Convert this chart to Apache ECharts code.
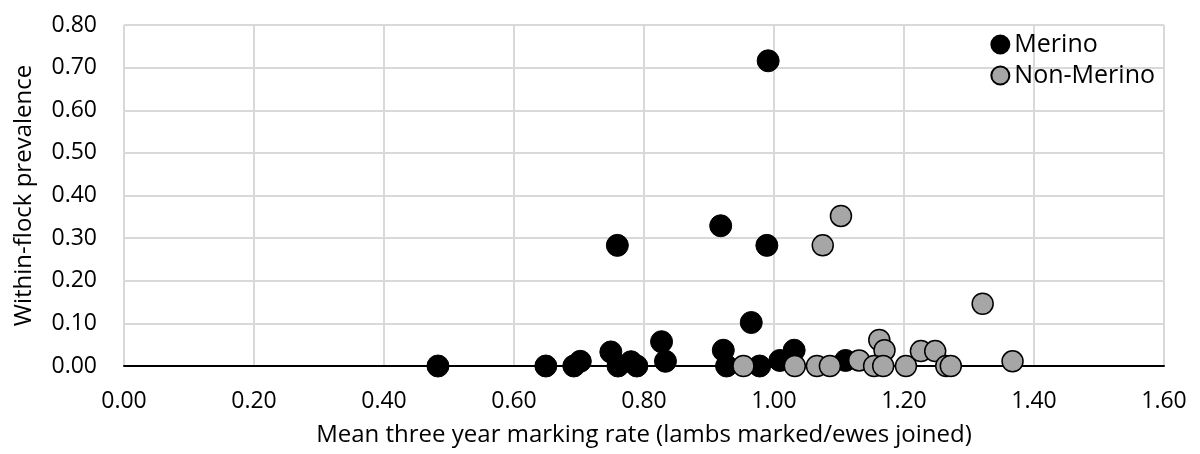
<!DOCTYPE html>
<html><head><meta charset="utf-8">
<script src="https://cdn.jsdelivr.net/npm/echarts@6/dist/echarts.min.js"></script>
<style>html,body{margin:0;padding:0;background:#fff}#c{width:1200px;height:454px}</style>
</head><body><div id="c"></div>
<script>
const xTicks = [0.00,0.20,0.40,0.60,0.80,1.00,1.20,1.40,1.60];
const yTicks = [0.00,0.10,0.20,0.30,0.40,0.50,0.60,0.70,0.80];
const merinoX = [0.483,0.649,0.692,0.702,0.749,0.760,0.759,0.780,0.789,0.827,0.833,0.918,0.922,0.927,0.965,0.978,0.989,0.991,1.009,1.031,1.110];
const merinoY = [0.000,0.000,0.000,0.011,0.033,0.000,0.283,0.010,0.000,0.057,0.011,0.329,0.037,0.000,0.102,0.000,0.283,0.716,0.013,0.037,0.013];
const nonX = [0.953,1.032,1.066,1.086,1.075,1.103,1.131,1.162,1.170,1.154,1.168,1.203,1.226,1.248,1.265,1.272,1.321,1.367];
const nonY = [0.000,0.000,0.000,0.000,0.283,0.352,0.013,0.061,0.037,0.000,0.000,0.000,0.035,0.035,0.000,0.000,0.146,0.011];

const font = 'Open Sans';
const chart = echarts.init(document.getElementById('c'));
chart.setOption({
  animation:false,
  textStyle:{fontFamily:font},
  grid:{left:124,right:36,top:25,bottom:88},
  legend:{
    right:40, top:27, orient:'vertical', itemGap:6, itemWidth:18, itemHeight:18,
    textStyle:{fontSize:25,color:'#000',fontFamily:font, padding:[0,0,0,0]},
    data:[{name:'Merino',icon:'circle'},{name:'Non-Merino',icon:'circle'}]
  },
  xAxis:{
    type:'value', min:xTicks[0], max:xTicks[xTicks.length-1], interval:0.2,
    name:'Mean three year marking rate (lambs marked/ewes joined)',
    nameLocation:'middle', nameGap:57,
    nameTextStyle:{fontSize:24,color:'#000',fontFamily:font},
    axisLine:{show:true,onZero:false,lineStyle:{color:'#000',width:2}},
    axisTick:{show:false},
    axisLabel:{fontSize:23,color:'#000',margin:24,formatter:v=>v.toFixed(2)},
    splitLine:{show:true,lineStyle:{color:'#d9d9d9',width:2}}
  },
  yAxis:{
    type:'value', min:yTicks[0], max:yTicks[yTicks.length-1], interval:0.1,
    name:'Within-flock prevalence',
    nameLocation:'middle', nameGap:88,
    nameTextStyle:{fontSize:24,color:'#000',fontFamily:font},
    axisLine:{show:false}, axisTick:{show:false},
    axisLabel:{fontSize:23,color:'#000',margin:27,formatter:v=>v.toFixed(2)},
    splitLine:{show:true,lineStyle:{color:'#d9d9d9',width:2}}
  },
  series:[
    {name:'Merino',type:'scatter',symbol:'circle',symbolSize:22,
     itemStyle:{color:'#000',borderColor:'#000',borderWidth:1,opacity:1},
     data:merinoX.map((x,i)=>[x,merinoY[i]])},
    {name:'Non-Merino',type:'scatter',symbol:'circle',symbolSize:21,
     itemStyle:{color:'#a6a6a6',borderColor:'#000',borderWidth:1.5,opacity:1},
     data:nonX.map((x,i)=>[x,nonY[i]])}
  ]
});
</script></body></html>
